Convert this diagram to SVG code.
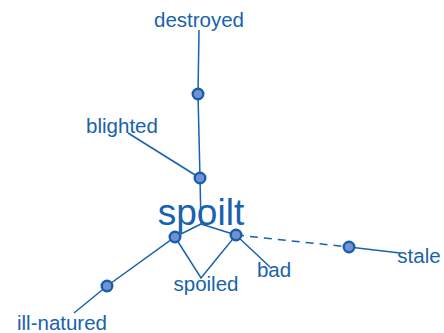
<svg xmlns="http://www.w3.org/2000/svg" width="444" height="333" viewBox="0 0 444 333">
<defs>
<style>
.lbl{font-family:"Liberation Sans",Arial,sans-serif;font-size:20.5px;fill:#1862ae;text-anchor:middle}
.big{font-size:37px}
.e{stroke:#1862ae;stroke-width:1.5;fill:none}
.d{stroke-dasharray:8,6}
.n{fill:#7092d2;stroke:#185eaa;stroke-width:2.4}
</style>
</defs>
<rect width="444" height="333" fill="#ffffff"/>
<g id="connectors">
<path class="e" d="M199,30 L198,94 L200,178 L201,224"/>
<path class="e" d="M128,133 L200,178"/>
<path class="e" d="M201,224 L175,237 L107,286 L74,313"/>
<path class="e" d="M201,224 L236,235"/>
<path class="e" d="M175,237 L201,278 L236,235 L270,267"/>
<path class="e d" d="M236,235 L349,247"/>
<path class="e" d="M349,247 L400,253"/>
</g>
<g id="destroyed"><text class="lbl" x="199" y="27">destroyed</text></g>
<g id="blighted"><text class="lbl" x="122" y="133">blighted</text></g>
<g id="spoilt"><text class="lbl big" x="201" y="225">spoilt</text></g>
<g id="spoiled"><text class="lbl" x="206" y="291">spoiled</text></g>
<g id="bad"><text class="lbl" x="274" y="277">bad</text></g>
<g id="stale"><text class="lbl" x="419" y="263">stale</text></g>
<g id="ill-natured"><text class="lbl" x="62" y="330">ill-natured</text></g>
<g id="node1"><circle class="n" cx="198" cy="94" r="5.3"/></g>
<g id="node2"><circle class="n" cx="200" cy="178" r="5.3"/></g>
<g id="node3"><circle class="n" cx="175" cy="237" r="5.3"/></g>
<g id="node4"><circle class="n" cx="236" cy="235" r="5.3"/></g>
<g id="node5"><circle class="n" cx="349" cy="247" r="5.3"/></g>
<g id="node6"><circle class="n" cx="107" cy="286" r="5.3"/></g>
</svg>
